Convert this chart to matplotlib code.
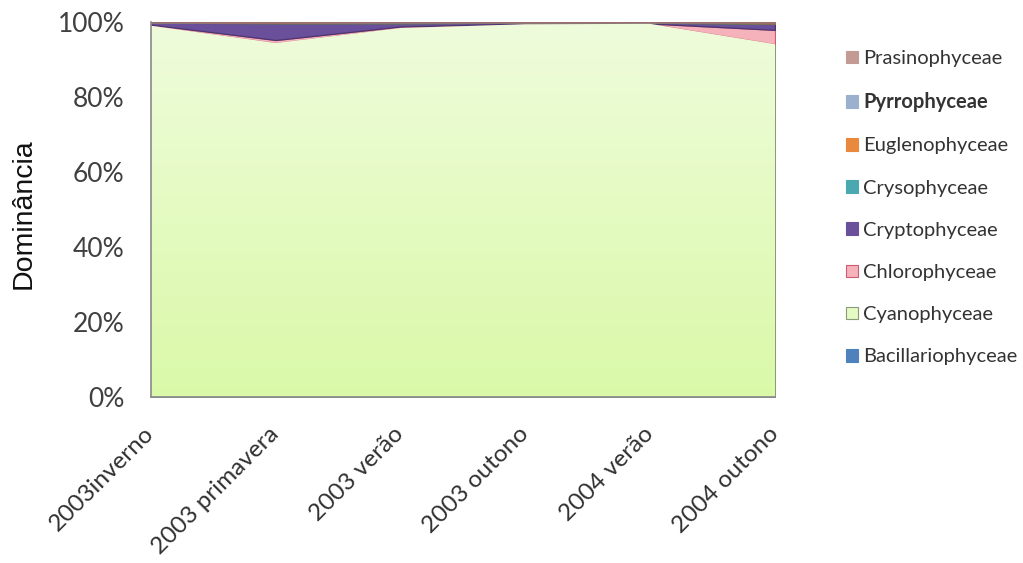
import numpy as np
import matplotlib
matplotlib.use("Agg")
import matplotlib.pyplot as plt
import matplotlib.transforms as mtransforms
from matplotlib.colors import LinearSegmentedColormap
from matplotlib.patches import Patch

# Relative dominance (%) of each phytoplankton class per sampling season
seasons = ['2003inverno', '2003 primavera', '2003 verão', '2003 outono', '2004 verão', '2004 outono']
bacillariophyceae = [0.1, 0.1, 0.1, 0.1, 0.1, 0.1]
cyanophyceae = [98.9, 94.3, 98.3, 99.3, 99.4, 94.0]
chlorophyceae = [0.3, 0.8, 0.4, 0.2, 0.1, 3.8]
cryptophyceae = [0.5, 4.5, 0.9, 0.2, 0.2, 1.7]
crysophyceae = [0.0, 0.0, 0.0, 0.0, 0.0, 0.0]
euglenophyceae = [0.1, 0.1, 0.2, 0.1, 0.1, 0.2]
pyrrophyceae = [0.0, 0.0, 0.0, 0.0, 0.0, 0.0]
prasinophyceae = [0.1, 0.2, 0.1, 0.1, 0.1, 0.2]
y_ticks = [0, 20, 40, 60, 80, 100]

series = [
    ('Bacillariophyceae', bacillariophyceae, '#4f81bd', '#3a6496'),
    ('Cyanophyceae', cyanophyceae, '#e4fbc4', '#8c9a78'),
    ('Chlorophyceae', chlorophyceae, '#f6b2bb', '#d05a6e'),
    ('Cryptophyceae', cryptophyceae, '#6a4f9a', '#4b3572'),
    ('Crysophyceae', crysophyceae, '#4aa9b0', '#2f8088'),
    ('Euglenophyceae', euglenophyceae, '#e8893e', '#b8652a'),
    ('Pyrrophyceae', pyrrophyceae, '#9bb0cc', '#7088a8'),
    ('Prasinophyceae', prasinophyceae, '#c39a94', '#9c6f68'),
]

fig = plt.figure(figsize=(10.23, 5.63), dpi=100)
ax = fig.add_axes([151 / 1023, 1 - 397 / 563, 624 / 1023, 375 / 563])

x = np.arange(len(seasons))
base = np.zeros(len(seasons))
handles = []
for name, vals, face, edge in series:
    top = base + np.array(vals)
    poly = ax.fill_between(x, base, top, facecolor=face, edgecolor=edge,
                           linewidth=0.9, zorder=2)
    if name == 'Cyanophyceae':
        # vertical gradient inside the Cyanophyceae area
        cmap = LinearSegmentedColormap.from_list('cy', ['#daf9a8', '#effcdc'])
        grad = np.linspace(0, 1, 256).reshape(-1, 1)
        im = ax.imshow(grad, cmap=cmap, origin='lower', aspect='auto',
                       extent=(x[0], x[-1], 0, 100), zorder=2.5)
        im.set_clip_path(poly.get_paths()[0], transform=ax.transData)
    handles.append(Patch(facecolor=face, edgecolor=edge if name in
                         ('Cyanophyceae', 'Chlorophyceae') else face,
                         linewidth=0.8, label=name))
    base = top

ax.set_xlim(x[0], x[-1])
ax.set_ylim(0, 100)
ax.set_yticks(y_ticks)
ax.set_yticklabels([f'{v}%' for v in y_ticks])
ax.set_xticks(x)
ax.set_xticklabels(seasons, rotation=45, ha='right', va='center',
                   rotation_mode='anchor')

shift = mtransforms.ScaledTranslation(6 / 100, 0, fig.dpi_scale_trans)
for lab in ax.get_yticklabels():
    lab.set_fontfamily('Lato')
    lab.set_fontsize(19)
    lab.set_color('#404040')
for lab in ax.get_xticklabels():
    lab.set_fontfamily('Lato')
    lab.set_fontsize(17.5)
    lab.set_color('#303030')
    lab.set_transform(lab.get_transform() + shift)

ax.tick_params(axis='y', length=0, pad=19)
ax.tick_params(axis='x', length=0, pad=24)
for side in ['top', 'right']:
    ax.spines[side].set_visible(False)
for side in ['left', 'bottom']:
    ax.spines[side].set_color('#8a8a8a')
    ax.spines[side].set_linewidth(1.2)
    ax.spines[side].set_zorder(3)

fig.text(0.023, 1 - 214 / 563, 'Dominância', rotation=90, ha='center',
         va='center', fontsize=20.5, fontfamily='Liberation Sans', color='#111111')

leg = fig.legend(handles[::-1], [h.get_label() for h in handles[::-1]],
                 loc='upper left', bbox_to_anchor=(828 / 1023, 1 - 32 / 563),
                 frameon=False, handlelength=0.6, handleheight=0.6,
                 handletextpad=0.25, labelspacing=1.25,
                 prop={'family': 'Lato', 'size': 14.5})
for t in leg.get_texts():
    t.set_color('#333333')
    if t.get_text() == 'Pyrrophyceae':
        t.set_fontweight('bold')

fig.savefig('out.png', dpi=100)
